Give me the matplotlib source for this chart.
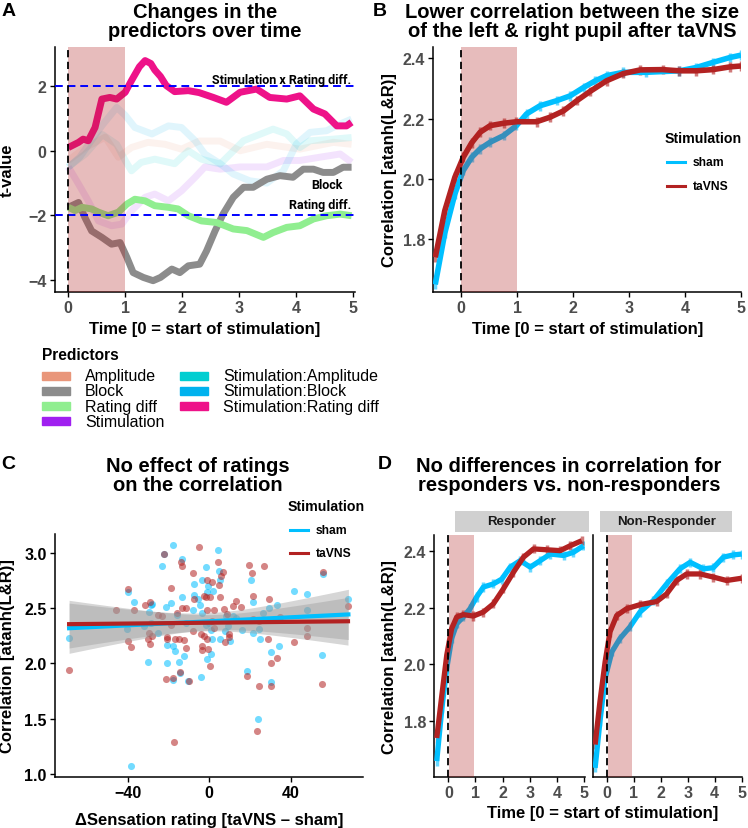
import matplotlib.pyplot as plt
import numpy as np
from matplotlib.patches import Rectangle
from matplotlib.lines import Line2D

plt.rcParams['font.family'] = ['Liberation Sans', 'DejaVu Sans']
plt.rcParams['font.weight'] = 'bold'
plt.rcParams['axes.labelweight'] = 'bold'

# ---------------- data ----------------
# Panel A: t-values of the predictors over time
amp_t = [0, 0.3, 0.65, 0.88, 1.11, 1.4, 1.7, 1.99, 2.3, 2.67, 3.02, 3.49, 4.07, 4.66, 4.98]
amp_y = [-0.3, 0.1, 0.42, -0.2, 0.1, 0.26, 0.2, 0.05, 0.3, 0.3, 0.0, 0.2, 0.05, 0.26, 0.2]
stim_t = [0, 0.18, 0.35, 0.53, 0.76, 0.94, 1.11, 1.35, 1.52, 1.76, 1.99, 2.23, 2.40, 2.67,
          3.02, 3.49, 3.78, 4.07, 4.42, 4.78, 4.98]
stim_y = [-0.5, -1.03, -1.55, -2.17, -2.32, -2.27, -1.86, -1.44, -1.34, -1.55, -1.24, -0.82,
          -0.5, -0.57, -0.5, -0.5, -0.3, -0.3, -0.2, -0.1, -0.36]
stim_amp_t = [0, 0.3, 0.6, 0.85, 1.0, 1.11, 1.28, 1.52, 1.87, 2.11, 2.34, 2.67, 3.08, 3.6,
              3.84, 4.07, 4.25, 4.66, 4.98]
stim_amp_y = [-0.5, -0.1, 0.5, 0.2, -0.3, -0.62, -0.36, -0.26, -0.4, 0.0, -0.26, -0.41, 0.31,
              0.67, 0.52, 0.1, 0.31, 0.36, 0.41]
stim_block_t = [0, 0.2, 0.4, 0.6, 0.85, 1.0, 1.17, 1.47, 1.76, 1.99, 2.23, 2.40, 2.67, 2.9,
                3.19, 3.49, 3.78, 4.01, 4.25, 4.54, 4.78, 4.98]
stim_block_y = [-0.51, -0.2, 0.3, 0.8, 1.34, 1.1, 0.72, 0.52, 0.77, 0.72, 0.31, -0.1, -0.4,
                -0.72, -0.93, -1.0, -0.62, 0.21, 0.57, 0.62, 0.83, 0.98]
stim_rating_t = [0.0, 0.18, 0.26, 0.35, 0.47, 0.59, 0.73, 0.85, 1.0, 1.11, 1.25, 1.35, 1.45,
                 1.52, 1.62, 1.72, 1.87, 2.11, 2.30, 2.55, 2.78, 3.02, 3.31, 3.54, 3.84, 4.07,
                 4.31, 4.51, 4.72, 4.89, 4.98]
stim_rating_y = [0.1, 0.26, 0.36, 0.31, 0.72, 1.6, 1.65, 1.6, 1.81, 2.17, 2.6, 2.79, 2.7,
                 2.5, 2.3, 2.02, 1.83, 1.86, 1.8, 1.65, 1.50, 1.81, 1.91, 1.65, 1.6, 1.70,
                 1.29, 1.14, 0.77, 0.77, 0.88]
block_t = [0, 0.18, 0.29, 0.41, 0.59, 0.76, 0.91, 1.03, 1.14, 1.32, 1.49, 1.62, 1.82, 1.96,
           2.11, 2.31, 2.43, 2.58, 2.72, 2.90, 3.08, 3.25, 3.49, 3.72, 3.95, 4.13, 4.31, 4.48,
           4.66, 4.83, 4.98]
block_y = [-1.75, -1.6, -2.06, -2.48, -2.68, -2.89, -2.84, -3.3, -3.77, -3.92, -4.02, -3.92,
           -3.66, -3.77, -3.56, -3.51, -3.1, -2.48, -1.96, -1.44, -1.13, -1.13, -0.88, -0.77,
           -0.82, -0.57, -0.57, -0.67, -0.67, -0.51, -0.51]
rating_t = [0, 0.12, 0.24, 0.41, 0.53, 0.70, 0.88, 1.03, 1.17, 1.35, 1.52, 1.76, 1.93, 2.11,
            2.34, 2.61, 2.90, 3.14, 3.43, 3.60, 3.84, 4.07, 4.31, 4.54, 4.78, 4.98]
rating_y = [-1.75, -1.85, -1.75, -1.8, -1.9, -2.01, -1.9, -1.65, -1.5, -1.55, -1.70, -1.75,
            -1.80, -2.01, -2.17, -2.22, -2.42, -2.47, -2.68, -2.53, -2.37, -2.32, -2.11,
            -2.01, -1.96, -2.01]

predictor_names = ['Amplitude', 'Block', 'Rating diff', 'Stimulation',
                   'Stimulation:Amplitude', 'Stimulation:Block', 'Stimulation:Rating diff']
predictor_colors = ['#E9967A', '#8C8C8C', '#90EE90', '#A020F0',
                    '#00CED1', '#00B2EE', '#EE1289']

# Panel B: correlation over time
b_t_sham = [-0.46, -0.29, -0.11, 0.04, 0.19, 0.34, 0.52, 0.76, 0.99, 1.17, 1.41, 1.71, 1.95,
            2.19, 2.40, 2.60, 2.90, 3.30, 3.90, 4.20, 4.50, 4.80, 5.0]
b_sham = [1.65, 1.82, 1.95, 2.028, 2.072, 2.10, 2.122, 2.144, 2.177, 2.216, 2.243, 2.26, 2.276,
          2.304, 2.326, 2.343, 2.354, 2.354, 2.359, 2.37, 2.387, 2.403, 2.411]
b_t_tavns = [-0.46, -0.29, -0.11, 0.04, 0.19, 0.34, 0.52, 0.76, 0.99, 1.35, 1.59, 1.83, 2.07,
             2.30, 2.60, 2.90, 3.20, 3.60, 3.90, 4.20, 4.50, 4.80, 5.0]
b_tavns = [1.74, 1.895, 2.006, 2.072, 2.12, 2.155, 2.177, 2.185, 2.19, 2.19, 2.205, 2.226, 2.26,
           2.29, 2.326, 2.35, 2.362, 2.363, 2.359, 2.359, 2.363, 2.372, 2.375]

# Panel C: sensation rating difference vs correlation
c_sham_x = [-68.6, -39.7, -36.7, -40.2, -29.9, -29.6, -28.7, -27.8, -23.0, -22.2,
            -17.8, -18.6, -21.4, -20.6, -20.6, -17.6, -16.7, -17.8, -15.7, -14.7,
            -14.2, -13.2, -13.2, -12.4, -11.4, -10.6, -7.8, -7.3, -7.3, -5.7,
            -4.6, -3.9, -3.4, -1.8, -1.3, -1.1, -0.5, 0.0, 1.0, 2.0,
            1.5, 4.2, 4.7, 5.2, 5.2, 7.7, 8.0, 9.3, 10.1, 13.1,
            16.2, 18.3, 20.2, 21.6, 21.6, 24.3, 24.7, 23.7, 26.5, 29.4,
            30.0, 30.2, 33.0, 34.3, 41.6, 48.0, 48.0, 55.4, 55.8, 68.1,
            -38.5, -31.8, -28.7, -25.3, -3.5, 11.5, -1.5, 0.7]
c_sham_y = [2.23, 2.65, 2.56, 2.31, 2.01, 2.47, 2.53, 2.54, 2.88, 2.99,
            3.07, 2.55, 2.51, 2.17, 2.00, 2.16, 2.11, 1.85, 2.44, 2.01,
            1.91, 2.95, 2.60, 2.07, 2.37, 1.84, 2.48, 2.72, 2.62, 2.58,
            2.53, 1.88, 2.76, 2.87, 2.65, 2.04, 2.70, 2.37, 2.30, 2.66,
            2.22, 3.03, 2.84, 2.76, 2.22, 2.29, 2.43, 2.34, 2.20, 2.41,
            2.30, 1.93, 2.76, 2.56, 2.28, 2.31, 2.22, 1.50, 2.46, 2.50,
            2.10, 1.83, 2.53, 2.16, 2.66, 2.63, 2.48, 2.08, 2.81, 2.58,
            1.07, 2.34, 2.37, 2.28, 2.46, 2.43, 2.35, 2.09]
c_tavns_x = [-68.6, -45.4, -39.7, -40.0, -38.5, -36.7, -31.4, -29.2, -29.6, -29.9,
             -29.1, -27.9, -25.3, -23.0, -22.2, -21.4, -20.6, -20.6, -18.6, -18.5,
             -17.8, -17.5, -16.8, -15.7, -14.9, -14.2, -13.6, -13.2, -13.2, -12.2,
             -11.4, -10.1, -7.8, -7.3, -7.8, -4.9, -4.2, -3.6, -3.6, -2.8,
             -2.6, -1.8, -1.3, -1.0, -1.1, -0.5, 0.5, 0.6, 1.5, 1.5,
             2.3, 2.4, 4.2, 4.7, 5.1, 5.6, 6.5, 7.3, 7.7, 8.7,
             9.6, 9.6, 11.8, 13.1, 15.7, 18.3, 19.4, 20.7, 21.6, 21.6,
             24.3, 24.2, 23.5, 26.8, 29.2, 28.9, 30.0, 30.0, 33.0, 34.6,
             41.6, 47.7, 48.0, 55.5, 55.0, 67.9, -11.4]
c_tavns_y = [1.94, 2.48, 2.67, 2.20, 2.15, 2.48, 2.53, 2.56, 2.28, 2.22,
             2.18, 2.25, 2.44, 2.43, 2.99, 1.86, 2.24, 2.22, 2.68, 2.35,
             1.87, 1.29, 2.22, 2.46, 2.22, 1.92, 2.92, 2.88, 2.50, 2.21,
             2.14, 1.84, 2.82, 2.58, 2.29, 3.05, 2.27, 2.16, 2.12, 2.25,
             2.61, 2.60, 2.76, 2.48, 2.22, 2.13, 1.98, 2.60, 2.74, 2.38,
             2.32, 2.48, 2.92, 2.71, 2.60, 2.79, 2.83, 2.49, 2.19, 2.45,
             2.27, 2.24, 2.52, 2.57, 2.51, 1.89, 2.89, 2.82, 2.61, 2.40,
             2.38, 1.80, 1.39, 2.88, 2.58, 2.22, 2.00, 1.80, 2.05, 2.42,
             2.19, 2.32, 2.25, 2.83, 1.81, 2.52, 2.50]

# Panel D: responders vs non-responders
resp_t_sham = [-0.43, -0.24, -0.06, 0.12, 0.31, 0.55, 0.80, 1.04, 1.29, 1.66, 1.97, 2.28,
               2.65, 3.02, 3.39, 3.76, 4.25, 4.61, 4.98]
resp_sham = [1.66, 1.846, 1.986, 2.091, 2.143, 2.167, 2.196, 2.237, 2.272, 2.283, 2.30, 2.342,
             2.365, 2.342, 2.365, 2.388, 2.383, 2.394, 2.417]
resp_t_tavns = [-0.43, -0.24, -0.06, 0.12, 0.31, 0.55, 0.92, 1.29, 1.66, 2.03, 2.40, 2.77,
                3.14, 3.63, 4.12, 4.49, 4.92]
resp_tavns = [1.741, 1.893, 2.033, 2.126, 2.167, 2.175, 2.17, 2.184, 2.213, 2.266, 2.324,
              2.377, 2.406, 2.403, 2.40, 2.417, 2.435]
nonresp_t_sham = [-0.43, -0.25, -0.06, 0.19, 0.49, 0.86, 1.23, 1.73, 2.22, 2.71, 3.09, 3.58,
                  3.95, 4.32, 4.69, 5.0]
nonresp_sham = [1.636, 1.80, 1.951, 2.044, 2.091, 2.132, 2.184, 2.225, 2.283, 2.336, 2.359,
                2.336, 2.34, 2.377, 2.385, 2.388]
nonresp_t_tavns = [-0.43, -0.25, -0.06, 0.12, 0.37, 0.74, 1.23, 1.85, 2.22, 2.59, 2.96, 3.46,
                   3.95, 4.44, 5.0]
nonresp_tavns = [1.718, 1.87, 2.009, 2.114, 2.172, 2.196, 2.21, 2.221, 2.248, 2.295, 2.318,
                 2.318, 2.307, 2.295, 2.303]

SHAM = '#00BFFF'
TAVNS = '#B22222'
SHADE = '#B22222'

# ---------------- layout helpers ----------------
W, H = 748, 829
fig = plt.figure(figsize=(W / 100, H / 100), dpi=100)


def box(l, t, r, b):
    return [l / W, 1 - b / H, (r - l) / W, (b - t) / H]


def ftext(x, y, s, **kw):
    return fig.text(x / W, 1 - y / H, s, **kw)


def style(ax, labelcolor='#4D4D4D'):
    for s in ['top', 'right']:
        ax.spines[s].set_visible(False)
    for s in ['left', 'bottom']:
        ax.spines[s].set_linewidth(1.1)
    ax.tick_params(length=3.5, width=1, pad=2.5, labelsize=11.5, labelcolor=labelcolor)


def stim_legend(x, y_title, y_rows):
    ftext(x, y_title, 'Stimulation', fontsize=10.2, va='center')
    for yy, c, lab in zip(y_rows, [SHAM, TAVNS], ['sham', 'taVNS']):
        fig.add_artist(Line2D([(x + 2) / W, (x + 20) / W], [1 - yy / H] * 2,
                              color=c, lw=2.2, transform=fig.transFigure))
        ftext(x + 28, yy, lab, fontsize=8.7, va='center')


def time_course(ax, t_s, y_s, t_t, y_t, lw=4, span=(0, 1)):
    for t, y, c in [(t_s, y_s, SHAM), (t_t, y_t, TAVNS)]:
        ax.errorbar(t, y, yerr=0.016, fmt='none', ecolor=c, elinewidth=2.5, alpha=0.6, zorder=2)
        ax.plot(t, y, color=c, lw=lw, solid_capstyle='butt', solid_joinstyle='round', zorder=3)
    ax.axvspan(*span, color=SHADE, alpha=0.3, lw=0, zorder=4)
    ax.axvline(0, color='black', lw=1.3, ls=(0, (4, 2.5)), zorder=5)


# ---------------- Panel A ----------------
axA = fig.add_axes(box(55, 47.7, 355, 293))
style(axA)
faint = [(amp_t, amp_y, 0), (stim_t, stim_y, 3), (stim_amp_t, stim_amp_y, 4),
         (stim_block_t, stim_block_y, 5)]
for t, y, i in faint:
    axA.plot(t, y, color=predictor_colors[i], lw=5, alpha=0.12, solid_capstyle='butt')
for t, y, i in [(block_t, block_y, 1), (rating_t, rating_y, 2), (stim_rating_t, stim_rating_y, 6)]:
    axA.plot(t, y, color=predictor_colors[i], lw=5, solid_capstyle='butt', solid_joinstyle='round')
axA.axvspan(0, 1, color=SHADE, alpha=0.3, lw=0, zorder=4)
for yy in [2, -2]:
    axA.axhline(yy, color='blue', lw=1.4, ls=(0, (4, 2.5)), zorder=5)
axA.axvline(0, color='black', lw=1.3, ls=(0, (4, 2.5)), zorder=5)
axA.set_xlim(-0.234, 5.04)
axA.set_ylim(-4.37, 3.22)
axA.set_xticks(range(6))
axA.set_yticks([-4, -2, 0, 2])
ann = dict(family=['Roboto', 'DejaVu Sans'], fontsize=9, fontweight='bold', va='center', zorder=6)
axA.text(4.98, 2.22, 'Stimulation x Rating diff.', ha='right', **ann)
axA.text(4.54, -1.05, 'Block', ha='center', **ann)
axA.text(4.98, -1.65, 'Rating diff.', ha='right', **ann)
axA.set_xlabel('Time [0 = start of stimulation]', fontsize=12)
axA.xaxis.set_label_coords(0.5, -0.118)
axA.set_ylabel('t-value', fontsize=12)
axA.yaxis.set_label_coords(-0.133, 0.5)

# predictors legend
ftext(41.7, 356, 'Predictors', fontsize=11.2, va='center')
for i, (name, col) in enumerate(zip(predictor_names, predictor_colors)):
    col_x = 42 if i < 4 else 180
    yy = 376.7 + (i % 4) * 15.2
    fig.add_artist(Rectangle((col_x / W, 1 - (yy + 4) / H), 28 / W, 8 / H,
                             color=col, transform=fig.transFigure))
    ftext(col_x + 43, yy, name, fontsize=11.5, fontweight='normal', va='center')

# ---------------- Panel B ----------------
axB = fig.add_axes(box(433.3, 47.7, 741, 293))
style(axB)
time_course(axB, b_t_sham, b_sham, b_t_tavns, b_tavns, lw=4)
axB.set_xlim(-0.495, 5.0)
axB.set_ylim(1.625, 2.439)
axB.set_xticks(range(6))
axB.set_yticks([1.8, 2.0, 2.2, 2.4])
axB.set_xlabel('Time [0 = start of stimulation]', fontsize=12)
axB.xaxis.set_label_coords(0.5, -0.118)
axB.set_ylabel('Correlation [atanh(L&R)]', fontsize=12)
axB.yaxis.set_label_coords(-0.118, 0.5)
stim_legend(665, 139, [163, 187])

# ---------------- Panel C ----------------
axC = fig.add_axes(box(55, 535, 362.7, 777.7))
style(axC, labelcolor='black')
for x, y, c in [(c_sham_x, c_sham_y, SHAM), (c_tavns_x, c_tavns_y, TAVNS)]:
    axC.scatter(x, y, s=26, color=c, alpha=0.55, lw=0, zorder=1)
for x, y, c in [(c_sham_x, c_sham_y, SHAM), (c_tavns_x, c_tavns_y, TAVNS)]:
    x = np.asarray(x)
    y = np.asarray(y)
    slope, icpt = np.polyfit(x, y, 1)
    xs = np.linspace(x.min(), x.max(), 80)
    resid = y - (icpt + slope * x)
    s = np.sqrt(np.sum(resid ** 2) / (len(x) - 2))
    se = s * np.sqrt(1 / len(x) + (xs - x.mean()) ** 2 / np.sum((x - x.mean()) ** 2))
    fit = icpt + slope * xs
    axC.fill_between(xs, fit - 1.99 * se, fit + 1.99 * se, color='#999999', alpha=0.4, lw=0, zorder=2)
    axC.plot(xs, fit, color=c, lw=3, zorder=3)
axC.set_xlim(-75.5, 75.1)
axC.set_ylim(0.975, 3.172)
axC.set_xticks([-40, 0, 40])
axC.set_yticks([1.0, 1.5, 2.0, 2.5, 3.0])
axC.set_xlabel('\u0394Sensation rating [taVNS \u2013 sham]', fontsize=12)
axC.xaxis.set_label_coords(0.5, -0.145)
axC.set_ylabel('Correlation [atanh(L&R)]', fontsize=12)
axC.yaxis.set_label_coords(-0.13, 0.5)
stim_legend(288, 507, [531, 554])

# ---------------- Panel D ----------------
axD1 = fig.add_axes(box(434.3, 536, 585, 777.7))
axD2 = fig.add_axes(box(592.7, 536, 741.7, 777.7))
for ax, ts, ys, tt, yt in [(axD1, resp_t_sham, resp_sham, resp_t_tavns, resp_tavns),
                           (axD2, nonresp_t_sham, nonresp_sham, nonresp_t_tavns, nonresp_tavns)]:
    style(ax)
    time_course(ax, ts, ys, tt, yt, lw=3.8, span=(0.03, 0.95))
    ax.set_ylim(1.605, 2.455)
    ax.set_xticks(range(6))
    ax.set_yticks([1.8, 2.0, 2.2, 2.4])
axD1.set_xlim(-0.52, 5.04)
axD2.set_xlim(-0.52, 5.0)
axD2.tick_params(axis='y', length=0, labelleft=False)
axD1.set_ylabel('Correlation [atanh(L&R)]', fontsize=12)
axD1.yaxis.set_label_coords(-0.247, 0.5)
ftext(603, 814, 'Time [0 = start of stimulation]', fontsize=12, ha='center', va='center')
for l, r, lab in [(455, 589, 'Responder'), (600, 732.3, 'Non-Responder')]:
    fig.add_artist(Rectangle((l / W, 1 - 533.3 / H), (r - l) / W, 21.6 / H,
                             color='#D0D0D0', lw=0, transform=fig.transFigure))
    ftext((l + r) / 2, 522.5, lab, fontsize=9.5, ha='center', va='center', color='#1A1A1A')

# ---------------- titles and panel letters ----------------
tkw = dict(fontsize=14.5, ha='center', va='center', linespacing=1.05)
ftext(205, 22, 'Changes in the\npredictors over time', **tkw)
ftext(572, 22, 'Lower correlation between the size\nof the left & right pupil after taVNS', **tkw)
ftext(197.5, 476, 'No effect of ratings\non the correlation', **tkw)
ftext(569, 476, 'No differences in correlation for\nresponders vs. non-responders', **tkw)
for x, y, s in [(9, 11, 'A'), (380, 11, 'B'), (8, 465, 'C'), (385, 465, 'D')]:
    ftext(x, y, s, fontsize=14, ha='center', va='center')

fig.savefig('out.png', dpi=100)
